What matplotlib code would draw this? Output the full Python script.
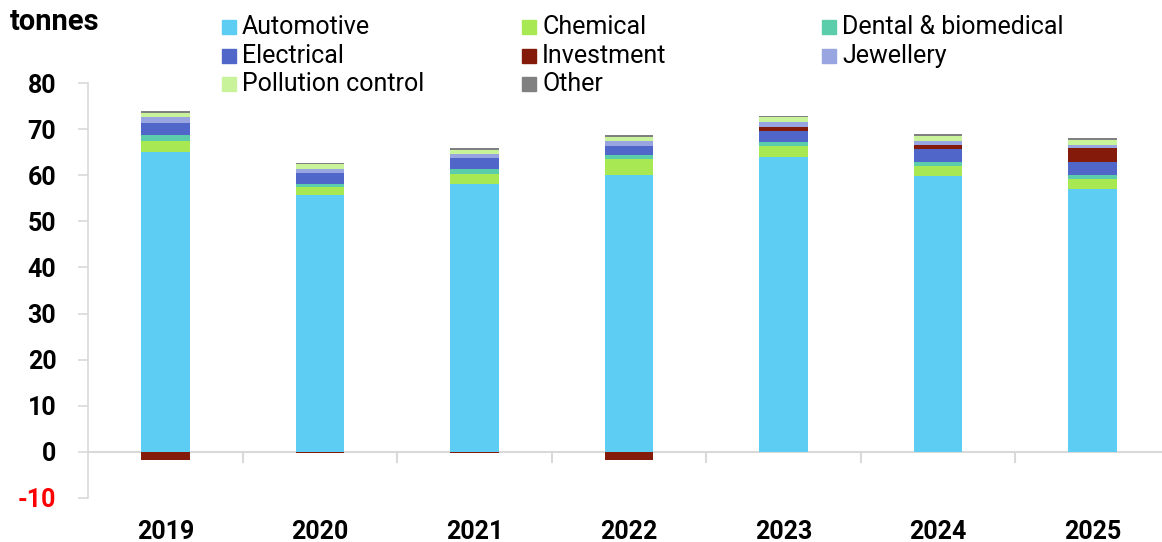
import numpy as np
import matplotlib
matplotlib.use("Agg")
import matplotlib.pyplot as plt
from matplotlib.patches import Rectangle

plt.rcParams['font.family'] = ['Roboto', 'DejaVu Sans']

# Demand by sector, tonnes
years = ['2019', '2020', '2021', '2022', '2023', '2024', '2025']
sectors = ['Automotive', 'Chemical', 'Dental & biomedical', 'Electrical',
           'Investment', 'Jewellery', 'Pollution control', 'Other']
automotive = [65.1, 55.7, 58.1, 60.1, 63.9, 59.8, 57.1]
chemical = [2.3, 1.7, 2.2, 3.4, 2.4, 2.2, 2.2]
dental = [1.3, 0.8, 1.0, 1.0, 0.9, 0.9, 0.8]
electrical = [2.6, 2.3, 2.4, 1.9, 2.5, 2.8, 2.9]
investment = [-1.8, -0.4, -0.4, -1.8, 0.9, 0.9, 2.9]
jewellery = [1.4, 0.9, 0.9, 1.0, 1.1, 0.9, 0.8]
pollution = [0.9, 1.0, 0.9, 0.9, 0.9, 1.1, 0.9]
other = [0.3, 0.3, 0.4, 0.4, 0.4, 0.4, 0.5]

series = [automotive, chemical, dental, electrical, investment, jewellery, pollution, other]
colors = ['#5ecdf3', '#a8e852', '#5ccdab', '#5067c9', '#841a09', '#98a5e0', '#c9f39b', '#808080']

fig = plt.figure(figsize=(11.62, 5.42), dpi=100)
W, H = 1162, 542
ax = fig.add_axes([88.2 / W, (H - 497.7) / H, 7 * 154.5 / W, (497.7 - 83.3) / H])

x = np.arange(len(years))
pos_base = np.zeros(len(years))
neg_base = np.zeros(len(years))
for vals, col in zip(series, colors):
    v = np.array(vals)
    base = np.where(v >= 0, pos_base, neg_base)
    ax.bar(x, v, bottom=base, width=0.315, color=col, linewidth=0, zorder=2)
    pos_base += np.where(v >= 0, v, 0)
    neg_base += np.where(v < 0, v, 0)

ax.set_xlim(-0.5, len(years) - 0.5)
ax.set_ylim(-10, 80)

grey = '#d9d9d9'
ax.axhline(0, color=grey, lw=1.5, zorder=1)
# separators below the zero line between years
for b in np.arange(0.5, len(years) - 0.5, 1):
    ax.plot([b, b], [0, -2.2], color=grey, lw=1.5, zorder=1, clip_on=False)

for s in ['top', 'right', 'bottom']:
    ax.spines[s].set_visible(False)
ax.spines['left'].set_color(grey)
ax.spines['left'].set_linewidth(1.2)

ax.set_yticks(np.arange(-10, 81, 10))
ax.set_yticklabels([str(t) for t in range(-10, 81, 10)], fontweight='bold')
ax.get_yticklabels()[0].set_color('#ff0000')
ax.tick_params(axis='y', length=7, width=1.2, color=grey, pad=16, labelsize=18)

ax.set_xticks(x)
ax.set_xticklabels(years, fontsize=18, fontweight='bold')
ax.tick_params(axis='x', length=0, pad=16)

fig.text(10 / W, 1 - 22 / H, 'tonnes', fontsize=21, fontweight='bold', va='center', ha='left')

# legend, three columns
col_x = [222, 522, 822]
row_y = [27, 56, 84]
for i, (name, col) in enumerate(zip(sectors, colors)):
    cx = col_x[i % 3]
    cy = row_y[i // 3]
    fig.patches.append(Rectangle((cx / W, 1 - (cy + 7) / H), 14 / W, 14 / H,
                                 transform=fig.transFigure, color=col, figure=fig))
    fig.text((cx + 20) / W, 1 - cy / H, name, fontsize=18, va='center', ha='left')

fig.savefig('out.png', dpi=100)
